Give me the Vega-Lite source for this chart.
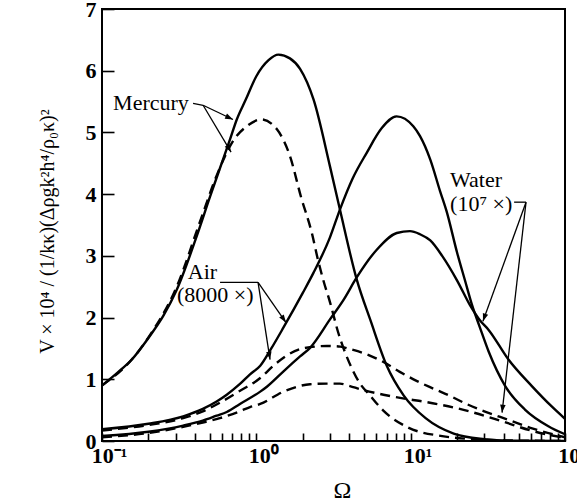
{
  "$schema": "https://vega.github.io/schema/vega-lite/v6.json",
  "width": 463,
  "height": 432,
  "autosize": {"type": "none"},
  "padding": {"left": 102, "top": 9, "right": 12, "bottom": 63},
  "background": "white",
  "config": {
    "view": {"stroke": "black", "strokeWidth": 2},
    "font": "Liberation Serif",
    "axis": {"domain": false, "grid": false, "tickColor": "black", "tickWidth": 1.6, "labelColor": "black", "titleColor": "black", "labelFont": "Liberation Serif", "titleFont": "Liberation Serif"}
  },
  "datasets": {
    "solid": [
      {"curve": "Mercury A", "omega": 0.1, "v": 0.9}, {"curve": "Mercury A", "omega": 0.125, "v": 1.1}, {"curve": "Mercury A", "omega": 0.156, "v": 1.32}, {"curve": "Mercury A", "omega": 0.2, "v": 1.67}, {"curve": "Mercury A", "omega": 0.25, "v": 2.03}, {"curve": "Mercury A", "omega": 0.305, "v": 2.45}, {"curve": "Mercury A", "omega": 0.411, "v": 3.32}, {"curve": "Mercury A", "omega": 0.5, "v": 3.95}, {"curve": "Mercury A", "omega": 0.6, "v": 4.52}, {"curve": "Mercury A", "omega": 0.676, "v": 4.89}, {"curve": "Mercury A", "omega": 0.747, "v": 5.21}, {"curve": "Mercury A", "omega": 0.85, "v": 5.52}, {"curve": "Mercury A", "omega": 1.0, "v": 5.91}, {"curve": "Mercury A", "omega": 1.2, "v": 6.17}, {"curve": "Mercury A", "omega": 1.39, "v": 6.26}, {"curve": "Mercury A", "omega": 1.65, "v": 6.2}, {"curve": "Mercury A", "omega": 1.92, "v": 6.03}, {"curve": "Mercury A", "omega": 2.35, "v": 5.53}, {"curve": "Mercury A", "omega": 3.0, "v": 4.45}, {"curve": "Mercury A", "omega": 3.48, "v": 3.75}, {"curve": "Mercury A", "omega": 4.47, "v": 2.62}, {"curve": "Mercury A", "omega": 5.5, "v": 1.95}, {"curve": "Mercury A", "omega": 7.0, "v": 1.22}, {"curve": "Mercury A", "omega": 9.0, "v": 0.74}, {"curve": "Mercury A", "omega": 12.5, "v": 0.37}, {"curve": "Mercury A", "omega": 19, "v": 0.12}, {"curve": "Mercury A", "omega": 30, "v": 0.03}, {"curve": "Mercury A", "omega": 45, "v": 0.005}, {"curve": "Mercury A", "omega": 100, "v": 0},
      {"curve": "Water A", "omega": 0.1, "v": 0.19}, {"curve": "Water A", "omega": 0.2, "v": 0.28}, {"curve": "Water A", "omega": 0.336, "v": 0.4}, {"curve": "Water A", "omega": 0.45, "v": 0.52}, {"curve": "Water A", "omega": 0.553, "v": 0.64}, {"curve": "Water A", "omega": 0.643, "v": 0.75}, {"curve": "Water A", "omega": 0.78, "v": 0.92}, {"curve": "Water A", "omega": 0.91, "v": 1.08}, {"curve": "Water A", "omega": 1.06, "v": 1.22}, {"curve": "Water A", "omega": 1.25, "v": 1.5}, {"curve": "Water A", "omega": 1.5, "v": 1.84}, {"curve": "Water A", "omega": 2.0, "v": 2.4}, {"curve": "Water A", "omega": 2.34, "v": 2.72}, {"curve": "Water A", "omega": 3.0, "v": 3.3}, {"curve": "Water A", "omega": 3.48, "v": 3.75}, {"curve": "Water A", "omega": 4.2, "v": 4.25}, {"curve": "Water A", "omega": 5.19, "v": 4.67}, {"curve": "Water A", "omega": 6.5, "v": 5.07}, {"curve": "Water A", "omega": 8.1, "v": 5.26}, {"curve": "Water A", "omega": 10.4, "v": 5.1}, {"curve": "Water A", "omega": 11.5, "v": 4.94}, {"curve": "Water A", "omega": 13.4, "v": 4.56}, {"curve": "Water A", "omega": 15.5, "v": 4.05}, {"curve": "Water A", "omega": 17.1, "v": 3.72}, {"curve": "Water A", "omega": 20, "v": 3.05}, {"curve": "Water A", "omega": 22.5, "v": 2.6}, {"curve": "Water A", "omega": 25, "v": 2.2}, {"curve": "Water A", "omega": 28, "v": 1.85}, {"curve": "Water A", "omega": 32, "v": 1.45}, {"curve": "Water A", "omega": 41, "v": 0.89}, {"curve": "Water A", "omega": 55, "v": 0.51}, {"curve": "Water A", "omega": 78, "v": 0.24}, {"curve": "Water A", "omega": 100, "v": 0.11},
      {"curve": "Water B", "omega": 0.1, "v": 0.08}, {"curve": "Water B", "omega": 0.2, "v": 0.15}, {"curve": "Water B", "omega": 0.336, "v": 0.25}, {"curve": "Water B", "omega": 0.45, "v": 0.33}, {"curve": "Water B", "omega": 0.553, "v": 0.41}, {"curve": "Water B", "omega": 0.643, "v": 0.47}, {"curve": "Water B", "omega": 0.783, "v": 0.6}, {"curve": "Water B", "omega": 1.06, "v": 0.8}, {"curve": "Water B", "omega": 1.17, "v": 0.88}, {"curve": "Water B", "omega": 1.5, "v": 1.13}, {"curve": "Water B", "omega": 1.92, "v": 1.37}, {"curve": "Water B", "omega": 2.23, "v": 1.51}, {"curve": "Water B", "omega": 3.0, "v": 1.97}, {"curve": "Water B", "omega": 3.7, "v": 2.3}, {"curve": "Water B", "omega": 4.47, "v": 2.65}, {"curve": "Water B", "omega": 6.03, "v": 3.1}, {"curve": "Water B", "omega": 8.13, "v": 3.37}, {"curve": "Water B", "omega": 9.9, "v": 3.4}, {"curve": "Water B", "omega": 11.5, "v": 3.35}, {"curve": "Water B", "omega": 13.4, "v": 3.25}, {"curve": "Water B", "omega": 16, "v": 3.0}, {"curve": "Water B", "omega": 20, "v": 2.6}, {"curve": "Water B", "omega": 24.5, "v": 2.18}, {"curve": "Water B", "omega": 28, "v": 1.96}, {"curve": "Water B", "omega": 32, "v": 1.8}, {"curve": "Water B", "omega": 43, "v": 1.32}, {"curve": "Water B", "omega": 61, "v": 0.89}, {"curve": "Water B", "omega": 82, "v": 0.56}, {"curve": "Water B", "omega": 100, "v": 0.36}
    ],
    "dashed": [
      {"curve": "Mercury B", "omega": 0.1, "v": 0.9}, {"curve": "Mercury B", "omega": 0.156, "v": 1.32}, {"curve": "Mercury B", "omega": 0.2, "v": 1.68}, {"curve": "Mercury B", "omega": 0.305, "v": 2.5}, {"curve": "Mercury B", "omega": 0.431, "v": 3.55}, {"curve": "Mercury B", "omega": 0.553, "v": 4.3}, {"curve": "Mercury B", "omega": 0.71, "v": 4.87}, {"curve": "Mercury B", "omega": 0.867, "v": 5.1}, {"curve": "Mercury B", "omega": 1.08, "v": 5.21}, {"curve": "Mercury B", "omega": 1.36, "v": 5.05}, {"curve": "Mercury B", "omega": 1.65, "v": 4.62}, {"curve": "Mercury B", "omega": 1.95, "v": 3.95}, {"curve": "Mercury B", "omega": 2.3, "v": 3.35}, {"curve": "Mercury B", "omega": 2.5, "v": 2.95}, {"curve": "Mercury B", "omega": 2.72, "v": 2.6}, {"curve": "Mercury B", "omega": 3.0, "v": 2.25}, {"curve": "Mercury B", "omega": 3.4, "v": 1.75}, {"curve": "Mercury B", "omega": 4.0, "v": 1.27}, {"curve": "Mercury B", "omega": 4.7, "v": 0.93}, {"curve": "Mercury B", "omega": 5.4, "v": 0.75}, {"curve": "Mercury B", "omega": 6.6, "v": 0.5}, {"curve": "Mercury B", "omega": 9.6, "v": 0.22}, {"curve": "Mercury B", "omega": 16, "v": 0.08}, {"curve": "Mercury B", "omega": 25, "v": 0.03}, {"curve": "Mercury B", "omega": 40, "v": 0.01}, {"curve": "Mercury B", "omega": 100, "v": 0},
      {"curve": "Air A", "omega": 0.1, "v": 0.17}, {"curve": "Air A", "omega": 0.2, "v": 0.26}, {"curve": "Air A", "omega": 0.336, "v": 0.37}, {"curve": "Air A", "omega": 0.45, "v": 0.48}, {"curve": "Air A", "omega": 0.58, "v": 0.62}, {"curve": "Air A", "omega": 0.78, "v": 0.81}, {"curve": "Air A", "omega": 1.06, "v": 1.02}, {"curve": "Air A", "omega": 1.29, "v": 1.22}, {"curve": "Air A", "omega": 1.5, "v": 1.35}, {"curve": "Air A", "omega": 2.0, "v": 1.5}, {"curve": "Air A", "omega": 2.86, "v": 1.54}, {"curve": "Air A", "omega": 3.5, "v": 1.53}, {"curve": "Air A", "omega": 4.04, "v": 1.49}, {"curve": "Air A", "omega": 5.0, "v": 1.42}, {"curve": "Air A", "omega": 6.66, "v": 1.28}, {"curve": "Air A", "omega": 8.5, "v": 1.12}, {"curve": "Air A", "omega": 11, "v": 0.97}, {"curve": "Air A", "omega": 14, "v": 0.85}, {"curve": "Air A", "omega": 18, "v": 0.73}, {"curve": "Air A", "omega": 23, "v": 0.6}, {"curve": "Air A", "omega": 30, "v": 0.48}, {"curve": "Air A", "omega": 38, "v": 0.39}, {"curve": "Air A", "omega": 62, "v": 0.2}, {"curve": "Air A", "omega": 100, "v": 0.06},
      {"curve": "Air B", "omega": 0.1, "v": 0.06}, {"curve": "Air B", "omega": 0.2, "v": 0.13}, {"curve": "Air B", "omega": 0.336, "v": 0.23}, {"curve": "Air B", "omega": 0.45, "v": 0.3}, {"curve": "Air B", "omega": 0.58, "v": 0.37}, {"curve": "Air B", "omega": 0.78, "v": 0.48}, {"curve": "Air B", "omega": 0.91, "v": 0.55}, {"curve": "Air B", "omega": 1.06, "v": 0.6}, {"curve": "Air B", "omega": 1.5, "v": 0.8}, {"curve": "Air B", "omega": 2.23, "v": 0.92}, {"curve": "Air B", "omega": 2.86, "v": 0.93}, {"curve": "Air B", "omega": 3.48, "v": 0.93}, {"curve": "Air B", "omega": 4.04, "v": 0.89}, {"curve": "Air B", "omega": 4.7, "v": 0.84}, {"curve": "Air B", "omega": 6.66, "v": 0.75}, {"curve": "Air B", "omega": 9.44, "v": 0.68}, {"curve": "Air B", "omega": 12, "v": 0.64}, {"curve": "Air B", "omega": 15.5, "v": 0.59}, {"curve": "Air B", "omega": 20, "v": 0.53}, {"curve": "Air B", "omega": 24, "v": 0.48}, {"curve": "Air B", "omega": 38, "v": 0.33}, {"curve": "Air B", "omega": 62, "v": 0.16}, {"curve": "Air B", "omega": 100, "v": 0.05}
    ],
    "labels": [
      {"text": "Mercury", "omega": 0.118, "v": 5.36},
      {"text": "Air", "omega": 0.36, "v": 2.63},
      {"text": "(8000 ×)", "omega": 0.306, "v": 2.26},
      {"text": "Water", "omega": 18.0, "v": 4.11},
      {"text": "(10⁷ ×)", "omega": 18.0, "v": 3.72}
    ],
    "leaders": [
      {"id": "Mercury leader", "omega": 0.389, "v": 5.47, "omega2": 0.452, "v2": 5.44},
      {"id": "Mercury 1", "omega": 0.452, "v": 5.44, "omega2": 0.706, "v2": 5.21},
      {"id": "Mercury 2", "omega": 0.452, "v": 5.44, "omega2": 0.686, "v2": 4.68},
      {"id": "Air leader", "omega": 0.582, "v": 2.57, "omega2": 1.026, "v2": 2.57},
      {"id": "Air 1", "omega": 1.026, "v": 2.57, "omega2": 1.557, "v2": 1.92},
      {"id": "Air 2", "omega": 1.026, "v": 2.57, "omega2": 1.227, "v2": 1.32},
      {"id": "Water leader", "omega": 46.8, "v": 3.87, "omega2": 55.9, "v2": 3.87},
      {"id": "Water 1", "omega": 55.9, "v": 3.87, "omega2": 29.4, "v2": 1.94},
      {"id": "Water 2", "omega": 55.9, "v": 3.87, "omega2": 39.1, "v2": 0.46}
    ],
    "heads": [
      {"id": "Mercury 1", "omega": 0.706, "v": 5.21},
      {"id": "Mercury 2", "omega": 0.686, "v": 4.68},
      {"id": "Air 1", "omega": 1.557, "v": 1.92},
      {"id": "Air 2", "omega": 1.227, "v": 1.32},
      {"id": "Water 1", "omega": 29.4, "v": 1.94},
      {"id": "Water 2", "omega": 39.1, "v": 0.46}
    ]
  },
  "encoding": {
    "x": {"field": "omega", "type": "quantitative", "scale": {"type": "log", "domain": [0.1, 100], "nice": false},
      "axis": {
        "title": "Ω", "titleFontSize": 24, "titleFontWeight": "normal", "titleX": 240, "titleY": 56, "titleBaseline": "alphabetic",
        "values": [0.1, 0.2, 0.3, 0.4, 0.5, 0.6, 0.7, 0.8, 0.9, 1, 2, 3, 4, 5, 6, 7, 8, 9, 10, 20, 30, 40, 50, 60, 70, 80, 90, 100],
        "labelExpr": "datum.value == 0.1 ? '10⁻¹' : datum.value == 1 ? '10⁰' : datum.value == 10 ? '10¹' : datum.value == 100 ? '10²' : ''",
        "labelFontSize": 22, "labelFontWeight": "bold", "labelPadding": 12, "labelOffset": 7, "labelFlush": false, "labelOverlap": false, "labelBound": false,
        "tickSize": -8
      }
    },
    "y": {"field": "v", "type": "quantitative", "scale": {"domain": [0, 7], "nice": false},
      "axis": {
        "title": "V × 10⁴ / (1/kκ)(Δρgk²h⁴/ρ₀κ)²", "titleFontSize": 20, "titleFontWeight": "normal", "titleX": -55, "titleY": 222, "titleAngle": -90, "titleAlign": "center", "titleBaseline": "middle",
        "values": [0, 1, 2, 3, 4, 5, 6, 7], "tickSize": -12, "labelPadding": 18, "labelFontSize": 22, "labelFontWeight": "bold"
      }
    }
  },
  "layer": [
    {"data": {"name": "solid"}, "mark": {"type": "line", "color": "black", "strokeWidth": 2.4, "interpolate": "monotone", "clip": true}, "encoding": {"detail": {"field": "curve"}}},
    {"data": {"name": "dashed"}, "mark": {"type": "line", "color": "black", "strokeWidth": 2.4, "strokeDash": [10, 6], "interpolate": "monotone", "clip": true}, "encoding": {"detail": {"field": "curve"}}},
    {"data": {"name": "leaders"}, "mark": {"type": "rule", "color": "black", "strokeWidth": 1.3}, "encoding": {"x2": {"field": "omega2"}, "y2": {"field": "v2"}}},
    {"data": {"name": "heads"}, "transform": [{"filter": "datum.id == 'Mercury 1'"}], "mark": {"type": "point", "shape": "M0,0L-0.35,1L0.35,1Z", "filled": true, "color": "black", "opacity": 1, "size": 250, "angle": 115}},
    {"data": {"name": "heads"}, "transform": [{"filter": "datum.id == 'Mercury 2'"}], "mark": {"type": "point", "shape": "M0,0L-0.35,1L0.35,1Z", "filled": true, "color": "black", "opacity": 1, "size": 250, "angle": 150}},
    {"data": {"name": "heads"}, "transform": [{"filter": "datum.id == 'Air 1'"}], "mark": {"type": "point", "shape": "M0,0L-0.35,1L0.35,1Z", "filled": true, "color": "black", "opacity": 1, "size": 250, "angle": 145}},
    {"data": {"name": "heads"}, "transform": [{"filter": "datum.id == 'Air 2'"}], "mark": {"type": "point", "shape": "M0,0L-0.35,1L0.35,1Z", "filled": true, "color": "black", "opacity": 1, "size": 250, "angle": 171}},
    {"data": {"name": "heads"}, "transform": [{"filter": "datum.id == 'Water 1'"}], "mark": {"type": "point", "shape": "M0,0L-0.35,1L0.35,1Z", "filled": true, "color": "black", "opacity": 1, "size": 250, "angle": 199}},
    {"data": {"name": "heads"}, "transform": [{"filter": "datum.id == 'Water 2'"}], "mark": {"type": "point", "shape": "M0,0L-0.35,1L0.35,1Z", "filled": true, "color": "black", "opacity": 1, "size": 250, "angle": 186}},
    {"data": {"name": "labels"}, "mark": {"type": "text", "align": "left", "baseline": "alphabetic", "font": "Liberation Serif", "fontSize": 22, "color": "black"}, "encoding": {"text": {"field": "text"}}}
  ]
}
